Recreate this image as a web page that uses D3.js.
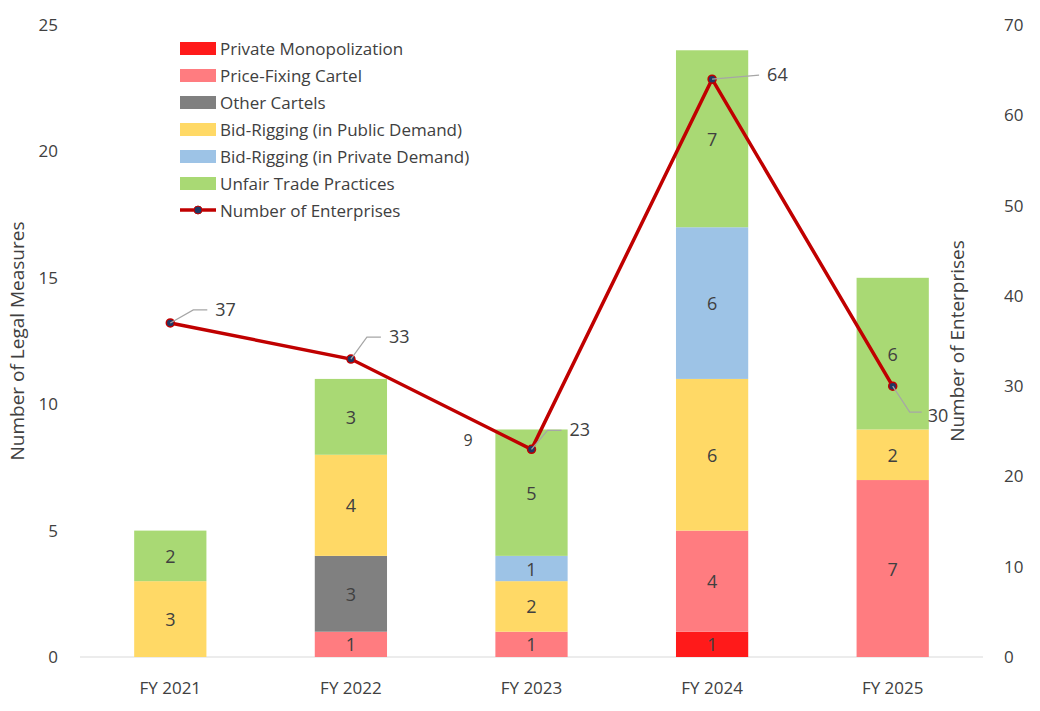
<!DOCTYPE html>
<html>
<head>
<meta charset="utf-8">
<script src="https://d3js.org/d3.v7.min.js"></script>
<style>
body { margin: 0; background: #fff; }
text { font-family: "Open Sans", "Noto Sans", sans-serif; fill: #404040; }
</style>
</head>
<body>
<svg width="1040" height="711"></svg>
<script>
var years = ["FY 2021", "FY 2022", "FY 2023", "FY 2024", "FY 2025"];
var seriesNames = ["Private Monopolization", "Price-Fixing Cartel", "Other Cartels",
  "Bid-Rigging (in Public Demand)", "Bid-Rigging (in Private Demand)", "Unfair Trade Practices"];
var seriesColors = ["#ff1a1a", "#ff7c80", "#808080", "#ffd966", "#9dc3e6", "#a9d974"];
var privateMonopolization = [0, 0, 0, 1, 0];
var priceFixing = [0, 1, 1, 4, 7];
var otherCartels = [0, 3, 0, 0, 0];
var bidPublic = [3, 4, 2, 6, 2];
var bidPrivate = [0, 0, 1, 6, 0];
var unfairTrade = [2, 3, 5, 7, 6];
var enterprises = [37, 33, 23, 64, 30];
var leftTicks = [0, 5, 10, 15, 20, 25];
var rightTicks = [0, 10, 20, 30, 40, 50, 60, 70];

var svg = d3.select("svg");
var x = d3.scaleBand().domain(years).range([80, 983]).paddingInner(0.6).paddingOuter(0.3);
var y = d3.scaleLinear().domain([0, 25]).range([657, 25]);
var y2 = d3.scaleLinear().domain([0, 70]).range([657, 25]);

var rows = years.map(function (yr, i) {
  return { year: yr, s0: privateMonopolization[i], s1: priceFixing[i], s2: otherCartels[i],
           s3: bidPublic[i], s4: bidPrivate[i], s5: unfairTrade[i] };
});
var keys = ["s0", "s1", "s2", "s3", "s4", "s5"];
var stack = d3.stack().keys(keys)(rows);

// axes
svg.append("line").attr("x1", 80).attr("x2", 983).attr("y1", 657).attr("y2", 657).attr("stroke", "#d9d9d9");
svg.selectAll("text.lt").data(leftTicks).enter().append("text")
  .attr("x", 58).attr("y", function (d) { return y(d) + 6; })
  .attr("text-anchor", "end").style("font-size", "17px").text(function (d) { return d; });
svg.selectAll("text.rt").data(rightTicks).enter().append("text")
  .attr("x", 1004).attr("y", function (d) { return y2(d) + 6; })
  .attr("text-anchor", "start").style("font-size", "17px").text(function (d) { return d; });
svg.selectAll("text.xt").data(years).enter().append("text")
  .attr("x", function (d) { return x(d) + x.bandwidth() / 2; }).attr("y", 694)
  .attr("text-anchor", "middle").style("font-size", "17px").text(function (d) { return d; });
svg.append("text").attr("transform", "translate(24,341) rotate(-90)")
  .attr("text-anchor", "middle").style("font-size", "19px").text("Number of Legal Measures");
svg.append("text").attr("transform", "translate(964,341) rotate(-90)")
  .attr("text-anchor", "middle").style("font-size", "19px").text("Number of Enterprises");

// bars
stack.forEach(function (layer, k) {
  var g = svg.append("g");
  layer.forEach(function (d) {
    var v = d[1] - d[0];
    if (!v) return;
    var cx = x(d.data.year);
    g.append("rect").attr("x", cx).attr("width", x.bandwidth())
      .attr("y", y(d[1])).attr("height", y(d[0]) - y(d[1])).attr("fill", seriesColors[k]);
    g.append("text").attr("x", cx + x.bandwidth() / 2).attr("y", (y(d[0]) + y(d[1])) / 2 + 7)
      .attr("text-anchor", "middle").style("font-size", "18px").text(v);
  });
});
svg.append("text").attr("x", 468).attr("y", y(9) + 17).attr("text-anchor", "middle")
  .style("font-size", "16px").text("9");

// line
var cxs = function (i) { return x(years[i]) + x.bandwidth() / 2; };
svg.append("path").datum(enterprises)
  .attr("d", d3.line().x(function (d, i) { return cxs(i); }).y(function (d) { return y2(d); }))
  .attr("fill", "none").attr("stroke", "#c00000").attr("stroke-width", 3.5);
svg.selectAll("circle.pt").data(enterprises).enter().append("circle")
  .attr("cx", function (d, i) { return cxs(i); }).attr("cy", function (d) { return y2(d); })
  .attr("r", 4).attr("fill", "#203864").attr("stroke", "#c00000").attr("stroke-width", 1.5);

var offs = [[45, -13], [38, -22], [38, -19], [55, -4], [35, 30]];
enterprises.forEach(function (d, i) {
  var px = cxs(i), py = y2(d), o = offs[i];
  var lx = px + o[0], ly = py + o[1];
  svg.append("polyline")
    .attr("points", i === 4 ? [[px, py], [lx - 18, ly - 4], [lx - 6, ly - 4]].join(" ")
                            : i === 3 ? [[px, py], [lx - 8, ly]].join(" ")
                            : [[px, py], [lx - 22, ly], [lx - 8, ly]].join(" "))
    .attr("fill", "none").attr("stroke", "#a6a6a6").attr("stroke-width", 1.2);
  svg.append("text").attr("x", lx).attr("y", ly + 6).style("font-size", "18px").text(d);
});

// legend
var lg = svg.append("g").attr("transform", "translate(180,42)");
seriesNames.forEach(function (n, i) {
  lg.append("rect").attr("x", 0).attr("y", i * 27).attr("width", 36).attr("height", 13).attr("fill", seriesColors[i]);
  lg.append("text").attr("x", 40).attr("y", i * 27 + 13).style("font-size", "17px").text(n);
});
var ly6 = 6 * 27 + 6;
lg.append("line").attr("x1", 0).attr("x2", 36).attr("y1", ly6).attr("y2", ly6).attr("stroke", "#c00000").attr("stroke-width", 3.5);
lg.append("circle").attr("cx", 18).attr("cy", ly6).attr("r", 4).attr("fill", "#203864").attr("stroke", "#c00000");
lg.append("text").attr("x", 40).attr("y", ly6 + 7).style("font-size", "17px").text("Number of Enterprises");
</script>
</body>
</html>
